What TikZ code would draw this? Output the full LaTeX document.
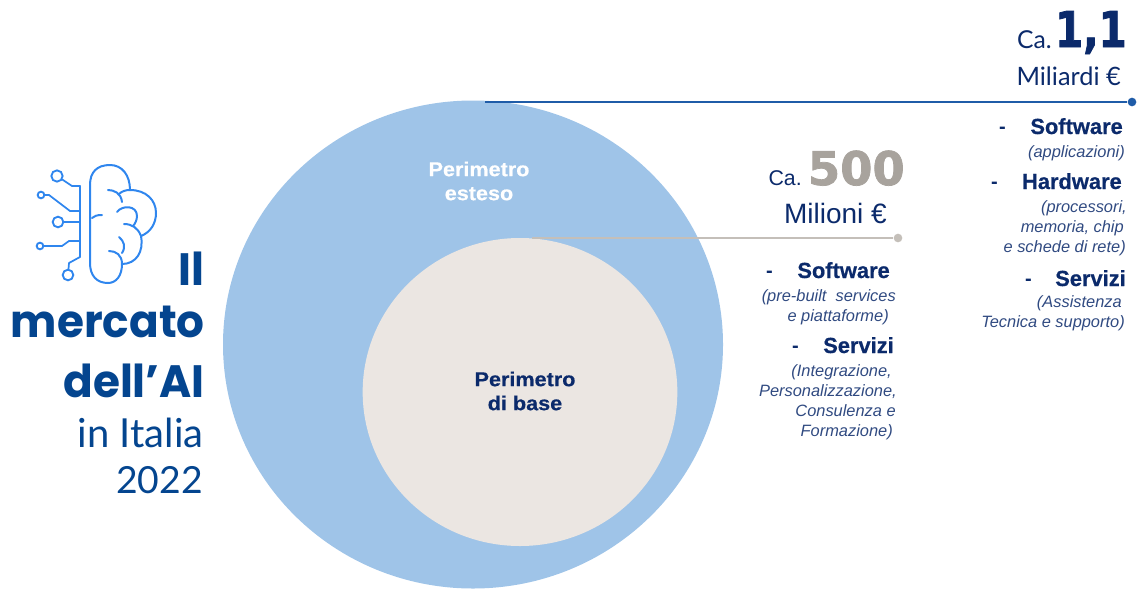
\documentclass[tikz,border=0pt]{standalone}
\usepackage{fontspec}
\usetikzlibrary{shapes.geometric}
\setmainfont{Liberation Sans}
\newfontfamily\titlefont[FakeStretch=0.965]{Poppins}
\newfontfamily\lightfont{Lato}
\newfontfamily\numfont[FakeStretch=0.82,FakeBold=1.6]{DejaVu Sans}
\newfontfamily\wheelfont[FakeBold=1.6]{DejaVu Sans}
\newfontfamily\widefont[FakeStretch=1.08,FakeBold=0.5]{Liberation Sans}
\newfontfamily\heavyfont[FakeBold=0.6]{Liberation Sans}
\definecolor{navy}{HTML}{0B2A6B}
\definecolor{titleblue}{HTML}{04458F}
\definecolor{circleblue}{HTML}{9FC4E8}
\definecolor{circlebase}{HTML}{EBE6E2}
\definecolor{greynum}{HTML}{A8A39D}
\definecolor{lineblue}{HTML}{1F5CA8}
\definecolor{linegrey}{HTML}{C4BFB9}
\definecolor{iconblue}{HTML}{2F86EE}
\tikzset{
  x=0.75pt,y=-0.75pt,
  txt/.style={inner sep=0pt,anchor=base east,text=navy},
  head/.style={txt,font=\heavyfont\fontsize{16.4}{17}\selectfont\bfseries},
  sub/.style={txt,font=\fontsize{12.3}{13}\selectfont\itshape,text=navy!85},
  dashmark/.style={txt,font=\fontsize{15}{16}\selectfont\bfseries},
  ttl/.style={inner sep=0pt,anchor=base east,text=titleblue,font=\titlefont\fontsize{34}{36}\selectfont\bfseries},
  ttllight/.style={inner sep=0pt,anchor=base east,text=titleblue,font=\lightfont\fontsize{30}{32}\selectfont},
  circlabel/.style={inner sep=0pt,align=center,font=\widefont\fontsize{15}{18}\selectfont\bfseries},
  icon/.style={draw=iconblue,line width=1.5pt,line cap=round,line join=round,fill=none},
  pin/.style={draw=iconblue,line width=1.4pt,circle,inner sep=0pt},
  wire/.style={icon,line width=1.3pt},
}
\begin{document}
\begin{tikzpicture}
\useasboundingbox (0,0) rectangle (1137,589);
\node[ellipse,fill=circleblue,minimum width=375pt,minimum height=366pt,inner sep=0pt] (outer) at (473,344.5) {};
\node[ellipse,fill=circlebase,minimum width=236pt,minimum height=231pt,inner sep=0pt] (inner) at (520,392) {};
% connectors
\coordinate (outertop) at (485,102);
\coordinate (innertop) at (532,238);
\node[circle,fill=lineblue,minimum size=6.5pt,inner sep=0pt] (dotA) at (1132,102) {};
\node[circle,fill=linegrey,minimum size=6.5pt,inner sep=0pt] (dotB) at (898,238) {};
\draw[lineblue,line width=1.5pt] (outertop) -- (dotA);
\draw[linegrey,line width=1.8pt] (innertop) -- (dotB);
% circle labels
\node[circlabel,text=white] (lblout) at (479,181) {Perimetro\\esteso};
\node[circlabel,text=navy] (lblin) at (525,391) {Perimetro\\di base};
% title
\node[ttl] (t1) at (205,285) {Il};
\node[ttl] (t2) at (205,337) {mercato};
\node[ttl] (t3) at (205,397) {dell’AI};
\node[ttllight] (t4) at (204,447) {in Italia};
\node[ttllight,font=\lightfont\fontsize{28}{30}\selectfont] (t5) at (203,493) {2022};
% top figure
\node[txt,font=\numfont\fontsize{37}{38}\selectfont\bfseries,text=navy] (n1) at (1127,47) {1,1};
\node[txt,font=\lightfont\fontsize{18.5}{20}\selectfont] (c1) at (1052,48) {Ca.};
\node[txt,font=\lightfont\fontsize{19}{20}\selectfont] (u1) at (1121,85) {Miliardi €};
% second figure
\node[txt,font=\wheelfont\fontsize{34.8}{36}\selectfont\bfseries,text=greynum] (n2) at (905,185) {500};
\node[txt,font=\fontsize{16}{17}\selectfont] (c2) at (802,185) {Ca.};
\node[txt,font=\fontsize{21}{22}\selectfont] (u2) at (887,223) {Milioni €};
% right column
\node[dashmark] (d1) at (1006,133) {-};
\node[head] (h1) at (1123,134) {Software};
\node[sub] (s1) at (1125,157) {(applicazioni)};
\node[dashmark] (d2) at (998,188) {-};
\node[head] (h2) at (1122,189) {Hardware};
\node[sub] (s2a) at (1127,212) {(processori,};
\node[sub] (s2b) at (1124,232) {memoria, chip};
\node[sub] (s2c) at (1126,252) {e schede di rete)};
\node[dashmark] (d3) at (1032,285) {-};
\node[head] (h3) at (1126,286) {Servizi};
\node[sub] (s3a) at (1122,307) {(Assistenza};
\node[sub] (s3b) at (1125,327) {Tecnica e supporto)};
% middle column
\node[dashmark] (d4) at (773,277) {-};
\node[head] (h4) at (890,278) {Software};
\node[sub] (s4a) at (896,301) {(pre-built\ \ services};
\node[sub] (s4b) at (889,321) {e piattaforme)};
\node[dashmark] (d5) at (799,352) {-};
\node[head] (h5) at (894,353) {Servizi};
\node[sub] (s5a) at (892,376) {(Integrazione,};
\node[sub] (s5b) at (897,396) {Personalizzazione,};
\node[sub] (s5c) at (896,416) {Consulenza e};
\node[sub] (s5d) at (893,436) {Formazione)};
% icon: brain
\draw[icon] (90,263) .. controls (90,276) and (97,283) .. (108,283) .. controls (116,283) and (122,276) .. (122,264)
  .. controls (136,264) and (144,252) .. (141,236)
  .. controls (151,232) and (156,223) .. (156,213) .. controls (156,200) and (146,190) .. (130,190)
  .. controls (130,175) and (122,165) .. (110,165) .. controls (97,165) and (90,172) .. (90,185) -- cycle;
\draw[icon] (108,190) .. controls (114,190) and (121,193) .. (122,202);
\draw[icon] (119,194) .. controls (122,191) and (126,190) .. (130,190);
\draw[icon] (117,212) .. controls (122,205) and (137,205) .. (137,216) .. controls (137,220) and (135,224) .. (133,226);
\draw[icon] (124,224) .. controls (132,224) and (138,228) .. (141,236);
\draw[icon] (92,218) .. controls (94,216) and (97,215) .. (102,215);
\draw[icon] (119,237) .. controls (124,241) and (126,247) .. (122,253);
\draw[icon] (109,251) .. controls (116,251) and (122,255) .. (122,264);
% icon: circuit
\draw[wire] (80,186) -- (80,257);
\node[pin,minimum size=8.5pt] (pa) at (57,176) {};
\node[pin,minimum size=5pt] (pb) at (41,195) {};
\node[pin,minimum size=8pt] (pc) at (58,222) {};
\node[pin,minimum size=5pt] (pd) at (40,246) {};
\node[pin,minimum size=8pt] (pe) at (68,275) {};
\draw[wire] (80,186) -- (72,186) -- (pa);
\draw[wire] (80,211) -- (70,211) -- (49,195) -- (pb);
\draw[wire] (80,222) -- (pc);
\draw[wire] (80,241) -- (69,241) -- (62,246) -- (pd);
\draw[wire] (80,257) -- (69,263) -- (pe);
\end{tikzpicture}
\end{document}
